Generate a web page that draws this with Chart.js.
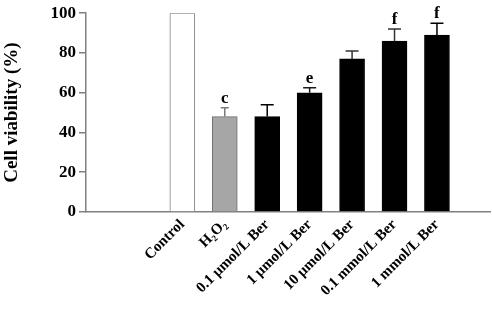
<!DOCTYPE html>
<html>
<head>
<meta charset="utf-8">
<script src="https://cdn.jsdelivr.net/npm/chart.js@4.4.1/dist/chart.umd.min.js"></script>
<style>
  html, body { margin: 0; padding: 0; background: #fff; }
</style>
</head>
<body>
<canvas id="grafico" width="492" height="328"></canvas>
<script>
const grupos = ['Control', 'H₂O₂', '0.1 μmol/L Ber', '1 μmol/L Ber', '10 μmol/L Ber', '0.1 mmol/L Ber', '1 mmol/L Ber'];
const viabilidade = [100, 48, 48, 60, 77, 86, 89];
const erro = [0, 4.5, 6, 2.5, 4, 6, 6];
const letras = ['', 'c', '', 'e', '', 'f', 'f'];
const yTicks = [0, 20, 40, 60, 80, 100];

const cores = ['#ffffff', '#a6a6a6', '#000000', '#000000', '#000000', '#000000', '#000000'];
const bordas = ['#808080', '#6e6e6e', '#000000', '#000000', '#000000', '#000000', '#000000'];
const corErro = ['#000', '#7a7a7a', '#000', '#1a1a1a', '#333', '#333', '#000'];
const fonte = 'Liberation Serif, Times New Roman, serif';

// barras de erro (só para cima) e letras de significância
const errorBars = {
    id: 'errorBars',
    afterDatasetsDraw(chart) {
        const { ctx, scales: { x, y } } = chart;
        ctx.save();
        ctx.lineWidth = 1.5;
        viabilidade.forEach((v, i) => {
            const px = x.getPixelForValue(i);
            const topo = y.getPixelForValue(v + erro[i]);
            const meio = i === 1 ? 4 : 6.5;
            if (erro[i] > 0) {
                ctx.strokeStyle = corErro[i];
                ctx.beginPath();
                ctx.moveTo(px, y.getPixelForValue(v));
                ctx.lineTo(px, topo);
                ctx.moveTo(px - meio, topo);
                ctx.lineTo(px + meio, topo);
                ctx.stroke();
            }
            if (letras[i]) {
                ctx.fillStyle = '#000';
                ctx.font = 'bold 17px ' + fonte;
                ctx.textAlign = 'center';
                ctx.textBaseline = 'alphabetic';
                ctx.fillText(letras[i], px, topo - 5);
            }
        });
        ctx.restore();
    }
};

new Chart(document.getElementById('grafico').getContext('2d'), {
    type: 'bar',
    data: {
        datasets: [{
            data: viabilidade.map((v, i) => ({ x: i, y: v })),
            backgroundColor: cores,
            borderColor: bordas,
            borderWidth: 1,
            barThickness: 25
        }]
    },
    options: {
        responsive: false,
        animation: false,
        layout: { padding: { top: 13, right: 2, left: 0, bottom: 0 } },
        plugins: { legend: { display: false }, tooltip: { enabled: false } },
        scales: {
            x: {
                type: 'linear',
                offset: false,
                min: -2.27,
                max: 7.25,
                afterBuildTicks: (axis) => { axis.ticks = grupos.map((_, i) => ({ value: i })); },
                afterFit: (axis) => {
                    axis.height = 116;
                    axis.paddingLeft = 0;
                    axis.paddingRight = 0;
                },
                grid: { display: false, drawTicks: false },
                border: { color: '#808080', width: 1.5 },
                ticks: {
                    autoSkip: false,
                    minRotation: 45,
                    maxRotation: 45,
                    padding: 4,
                    color: '#000',
                    font: { family: fonte, size: 15, weight: 'bold' },
                    callback: (v) => grupos[v] ?? ''
                }
            },
            y: {
                min: 0,
                max: 100,
                afterBuildTicks: (axis) => { axis.ticks = yTicks.map(v => ({ value: v })); },
                afterFit: (axis) => { axis.width = 86; },
                grid: { drawOnChartArea: false, drawTicks: true, tickLength: 7, color: '#808080', lineWidth: 1.5 },
                border: { color: '#808080', width: 1.5 },
                ticks: {
                    padding: 3,
                    color: '#000',
                    font: { family: fonte, size: 17, weight: 'bold' }
                },
                title: {
                    display: true,
                    text: 'Cell viability (%)',
                    color: '#000',
                    padding: { top: 1, bottom: 0 },
                    font: { family: fonte, size: 19, weight: 'bold' }
                }
            }
        }
    },
    plugins: [errorBars]
});
</script>
</body>
</html>
